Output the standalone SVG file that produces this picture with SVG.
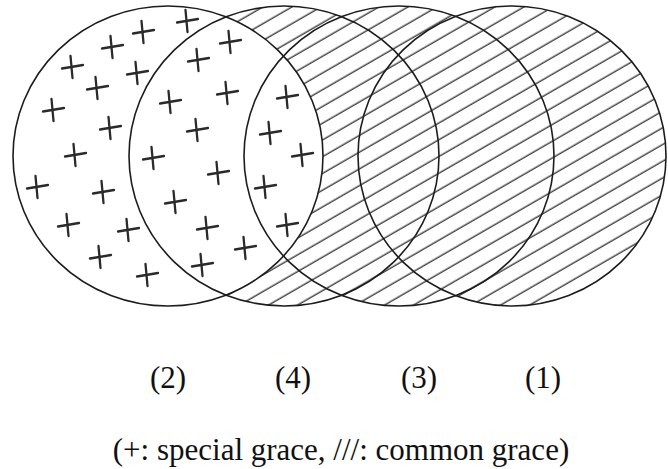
<svg xmlns="http://www.w3.org/2000/svg" xmlns:xlink="http://www.w3.org/1999/xlink" width="668" height="469" viewBox="0 0 668 469">
<style>
.ring{fill:none;stroke:#1c1c1c;stroke-width:1.6}
.hl{stroke:#444;stroke-width:1.4}
.plus{fill:none;stroke:#2a2a2a;stroke-width:2.3;stroke-linecap:round}
.lbl{font-family:"Liberation Serif","Times New Roman",serif;font-size:31px;fill:#111}
</style>
<defs>
<pattern id="hatch" patternUnits="userSpaceOnUse" width="40" height="14.5" patternTransform="rotate(-30)">
<line class="hl" x1="-5" y1="7" x2="45" y2="7"/>
</pattern>
<mask id="hmask" maskUnits="userSpaceOnUse" x="0" y="0" width="668" height="469">
<ellipse cx="284" cy="156" rx="155" ry="150" fill="#fff"/>
<ellipse cx="399" cy="156" rx="155" ry="150" fill="#fff"/>
<ellipse cx="512" cy="156" rx="154" ry="150" fill="#fff"/>
<ellipse cx="168" cy="156" rx="155" ry="150" fill="#000"/>
</mask>
<path id="p" d="M-10,1.5 L11,-2 M-1.5,-11 L0.5,11"/>
</defs>
<rect id="hatching" x="0" y="0" width="668" height="320" fill="url(#hatch)" mask="url(#hmask)"/>
<g id="pluses" class="plus">
<use xlink:href="#p" x="187" y="21"/>
<use xlink:href="#p" x="143" y="32"/>
<use xlink:href="#p" x="112" y="47"/>
<use xlink:href="#p" x="72" y="67"/>
<use xlink:href="#p" x="137" y="73"/>
<use xlink:href="#p" x="97" y="88"/>
<use xlink:href="#p" x="53" y="110"/>
<use xlink:href="#p" x="110" y="128"/>
<use xlink:href="#p" x="75" y="155"/>
<use xlink:href="#p" x="37" y="187"/>
<use xlink:href="#p" x="103" y="192"/>
<use xlink:href="#p" x="68" y="225"/>
<use xlink:href="#p" x="128" y="230"/>
<use xlink:href="#p" x="100" y="257"/>
<use xlink:href="#p" x="147" y="275"/>
<use xlink:href="#p" x="230" y="42"/>
<use xlink:href="#p" x="198" y="60"/>
<use xlink:href="#p" x="227" y="93"/>
<use xlink:href="#p" x="170" y="102"/>
<use xlink:href="#p" x="197" y="130"/>
<use xlink:href="#p" x="153" y="158"/>
<use xlink:href="#p" x="218" y="173"/>
<use xlink:href="#p" x="175" y="202"/>
<use xlink:href="#p" x="207" y="228"/>
<use xlink:href="#p" x="245" y="248"/>
<use xlink:href="#p" x="202" y="265"/>
<use xlink:href="#p" x="287" y="97"/>
<use xlink:href="#p" x="270" y="133"/>
<use xlink:href="#p" x="302" y="155"/>
<use xlink:href="#p" x="265" y="187"/>
<use xlink:href="#p" x="287" y="225"/>
</g>
<g id="circle2"><ellipse class="ring" cx="168" cy="156" rx="155" ry="150"/></g>
<g id="circle4"><ellipse class="ring" cx="284" cy="156" rx="155" ry="150"/></g>
<g id="circle3"><ellipse class="ring" cx="399" cy="156" rx="155" ry="150"/></g>
<g id="circle1"><ellipse class="ring" cx="512" cy="156" rx="154" ry="150"/></g>
<g id="connectors"/>
<g id="labels" class="lbl" text-anchor="middle">
<text x="168" y="388">(2)</text>
<text x="293" y="388">(4)</text>
<text x="419" y="388">(3)</text>
<text x="543" y="388">(1)</text>
<text x="341" y="460">(+: special grace, ///: common grace)</text>
</g>
</svg>
